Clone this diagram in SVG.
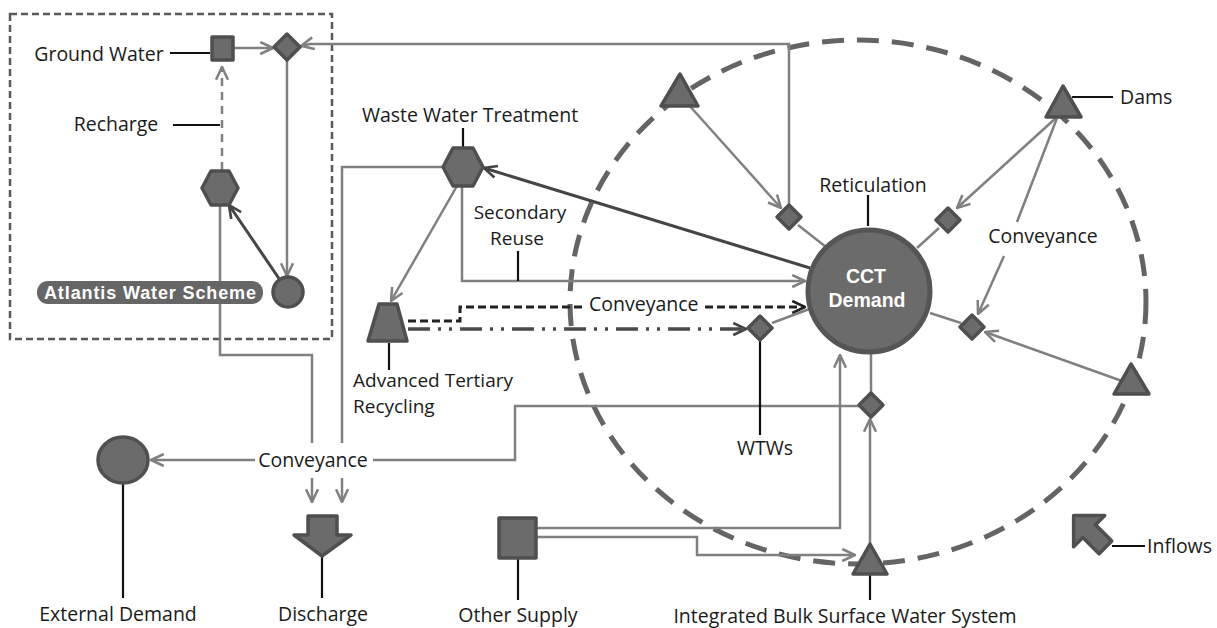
<svg xmlns="http://www.w3.org/2000/svg" width="1217" height="628" viewBox="0 0 1217 628">
<style>
.lbl{font-family:"Open Sans","Liberation Sans",sans-serif;font-size:19.5px;fill:#1a1a1a}
.two{font-size:19px}
.wb{font-family:"Liberation Sans",Arial,sans-serif;font-weight:bold;fill:#ffffff}
.node{fill:#6b6b6b;stroke:#4f4f4f;stroke-width:3.5;stroke-linejoin:round}
.c{fill:none;stroke:#808080;stroke-width:2.5}
.cd{fill:none;stroke:#454545;stroke-width:3}
.lead{fill:none;stroke:#111;stroke-width:2.2}
</style>
<defs>
<marker id="ag" viewBox="0 0 10 10" refX="9.5" refY="5" markerWidth="15" markerHeight="15" markerUnits="userSpaceOnUse" orient="auto"><path d="M1,1 L9.5,5 L1,9" fill="none" stroke="#808080" stroke-width="1.7"/></marker>
<marker id="ad" viewBox="0 0 10 10" refX="9.5" refY="5" markerWidth="15" markerHeight="15" markerUnits="userSpaceOnUse" orient="auto"><path d="M1,1 L9.5,5 L1,9" fill="none" stroke="#454545" stroke-width="1.8"/></marker>
<marker id="ab" viewBox="0 0 10 10" refX="9.5" refY="5" markerWidth="15" markerHeight="15" markerUnits="userSpaceOnUse" orient="auto"><path d="M1,1 L9.5,5 L1,9" fill="none" stroke="#222" stroke-width="1.8"/></marker>
</defs>
<rect width="1217" height="628" fill="#ffffff"/>

<g id="boundaries">
<rect x="10" y="14" width="322" height="325" fill="none" stroke="#5a5a5a" stroke-width="2.5" stroke-dasharray="7 4"/>
<ellipse cx="858" cy="302" rx="288" ry="262" fill="none" stroke="#646464" stroke-width="5" stroke-dasharray="22 13"/>
</g>

<g id="connectors">
<path class="c" d="M233,48 L273,48" marker-end="url(#ag)"/>
<path class="c" d="M789,204 L789,44 L310,44 L301,46" marker-end="url(#ag)"/>
<path class="c" d="M287,60 L287,276" marker-end="url(#ag)"/>
<path class="cd" d="M280,280 L229,205" marker-end="url(#ad)"/>
<path class="c" d="M222,170 L222,67" stroke-dasharray="8 6" marker-end="url(#ag)"/>
<path class="c" d="M220,206 L220,355 L312,355 L312,443"/>
<path class="c" d="M312,478 L312,502" marker-end="url(#ag)"/>
<path class="c" d="M443,167 L342,167 L342,443"/>
<path class="c" d="M342,478 L342,502" marker-end="url(#ag)"/>
<path class="c" d="M255,460 L151,460" marker-end="url(#ag)"/>
<path class="c" d="M373,460 L515,460 L515,406 L859,406"/>
<path class="c" d="M536,528 L840,528 L840,355" marker-end="url(#ag)"/>
<path class="c" d="M536,537 L697,537 L697,555 L855,555" marker-end="url(#ag)"/>
<path class="c" d="M870,543 L870,419" marker-end="url(#ag)"/>
<path class="c" d="M871,393 L871,353"/>
<path class="cd" d="M810,268 L484,168" stroke="#505050" marker-end="url(#ad)"/>
<path class="c" d="M462,187 L462,281 L805,281" marker-end="url(#ag)"/>
<path class="c" d="M457,186 L391,301" marker-end="url(#ag)"/>
<path d="M408,321 L460,321 L460,307 L585,307" fill="none" stroke="#222" stroke-width="3" stroke-dasharray="8 4"/>
<path d="M705,307 L805,307" fill="none" stroke="#222" stroke-width="3" stroke-dasharray="8 4" marker-end="url(#ab)"/>
<path d="M408,329 L746,329" fill="none" stroke="#4a4a4a" stroke-width="3.5" stroke-dasharray="22 8 3 8 3 8" marker-end="url(#ad)"/>
<path class="c" d="M772,323 L812,308"/>
<path class="c" d="M688,104 L781,208" marker-end="url(#ag)"/>
<path class="c" d="M798,225 L826,247"/>
<path class="c" d="M1057,117 L957,208" marker-end="url(#ag)"/>
<path class="c" d="M939,228 L917,248"/>
<path class="c" d="M1057,118 L1017,222"/>
<path class="c" d="M1004,256 L978,314" marker-end="url(#ag)"/>
<path class="c" d="M1122,381 L985,332" marker-end="url(#ag)"/>
<path class="c" d="M961,323 L930,313"/>
</g>

<g id="leaders">
<path class="lead" d="M170,53 L210,53"/>
<path class="lead" d="M173,125 L220,125"/>
<path class="lead" d="M463,128 L463,148"/>
<path class="lead" d="M518,251 L518,281"/>
<path class="lead" d="M389,343 L389,370"/>
<path class="lead" d="M760,340 L760,435"/>
<path class="lead" d="M868,195 L868,226"/>
<path class="lead" d="M1072,97 L1113,97"/>
<path class="lead" d="M123,484 L123,598"/>
<path class="lead" d="M322,557 L322,598"/>
<path class="lead" d="M518,558 L518,600"/>
<path class="lead" d="M870,575 L870,600" stroke-width="3"/>
<path class="lead" d="M1112,546 L1145,546"/>
</g>

<g id="ground-water">
<rect class="node" x="212" y="37" width="21" height="23" fill="#777"/>
<text class="lbl" x="99" y="61" text-anchor="middle">Ground Water</text>
</g>
<g id="gw-junction"><path class="node" d="M287,34 L300,47 L287,60 L274,47 Z"/></g>
<g id="recharge"><text class="lbl" x="116" y="131" text-anchor="middle">Recharge</text></g>
<g id="atlantis-treatment"><path class="node" d="M202,188 L211,171 L229,171 L238,188 L229,205 L211,205 Z"/></g>
<g id="atlantis-demand"><circle class="node" cx="288" cy="292" r="15"/></g>
<g id="atlantis-label">
<rect x="37" y="281" width="226" height="23" rx="11" fill="#666"/>
<text class="wb" x="150" y="299" font-size="18" text-anchor="middle" textLength="212">Atlantis Water Scheme</text>
</g>

<g id="wwt">
<path class="node" d="M443,167 L453,148 L473,148 L483,167 L473,186 L453,186 Z"/>
<text class="lbl" x="470" y="122" text-anchor="middle">Waste Water Treatment</text>
</g>
<g id="secondary-reuse">
<text class="lbl two" x="520" y="219" text-anchor="middle">Secondary</text>
<text class="lbl two" x="517" y="245" text-anchor="middle">Reuse</text>
</g>
<g id="tertiary">
<path class="node" d="M379,304 L397,304 L407,341 L368,341 Z"/>
<text class="lbl two" x="353" y="387">Advanced Tertiary</text>
<text class="lbl two" x="353" y="413">Recycling</text>
</g>
<g id="conveyance-mid"><text class="lbl" x="589" y="311">Conveyance</text></g>

<g id="cct-demand">
<circle cx="869" cy="291" r="61" fill="#6b6b6b" stroke="#555" stroke-width="5"/>
<text class="wb" font-size="19.5" text-anchor="middle"><tspan x="866" y="283">CCT</tspan><tspan x="867" y="307">Demand</tspan></text>
</g>
<g id="reticulation"><text class="lbl" x="873" y="192" text-anchor="middle">Reticulation</text></g>
<g id="ret-d1"><path class="node" d="M789,205 L801,217 L789,229 L777,217 Z"/></g>
<g id="ret-d2"><path class="node" d="M948,208 L960,220 L948,232 L936,220 Z"/></g>
<g id="ret-d3"><path class="node" d="M972,315 L984,327 L972,339 L960,327 Z"/></g>
<g id="wtws">
<path class="node" d="M760,316 L772,328 L760,340 L748,328 Z"/>
<text class="lbl" x="765" y="455" text-anchor="middle">WTWs</text>
</g>
<g id="bulk-junction"><path class="node" d="M871,393 L883,405 L871,417 L859,405 Z"/></g>

<g id="dam-1"><path class="node" d="M680,74 L698,106 L661,106 Z"/></g>
<g id="dam-2">
<path class="node" d="M1063,86 L1081,117 L1046,117 Z"/>
<text class="lbl" x="1120" y="104">Dams</text>
</g>
<g id="dam-3"><path class="node" d="M1131,364 L1149,394 L1114,394 Z"/></g>
<g id="conveyance-right"><text class="lbl" x="1043" y="243" text-anchor="middle">Conveyance</text></g>

<g id="conveyance-left"><text class="lbl" x="313" y="467" text-anchor="middle">Conveyance</text></g>
<g id="external-demand">
<ellipse class="node" cx="123" cy="460" rx="25" ry="23"/>
<text class="lbl" x="118" y="621" text-anchor="middle">External Demand</text>
</g>
<g id="discharge">
<path class="node" d="M308,516 L337,516 L337,535 L351,535 L322,556 L294,535 L308,535 Z"/>
<text class="lbl" x="323" y="621" text-anchor="middle">Discharge</text>
</g>
<g id="other-supply">
<rect class="node" x="499" y="518" width="37" height="40" fill="#777"/>
<text class="lbl" x="518" y="622" text-anchor="middle">Other Supply</text>
</g>
<g id="integrated-bulk">
<path class="node" d="M870,544 L887,574 L853,574 Z"/>
<text class="lbl" x="845" y="623" text-anchor="middle">Integrated Bulk Surface Water System</text>
</g>
<g id="inflows">
<path class="node" transform="translate(1092,534) rotate(-45)" d="M0,-26 L22,-4 L9,-4 L9,19 L-9,19 L-9,-4 L-22,-4 Z"/>
<text class="lbl" x="1147" y="553">Inflows</text>
</g>
</svg>
